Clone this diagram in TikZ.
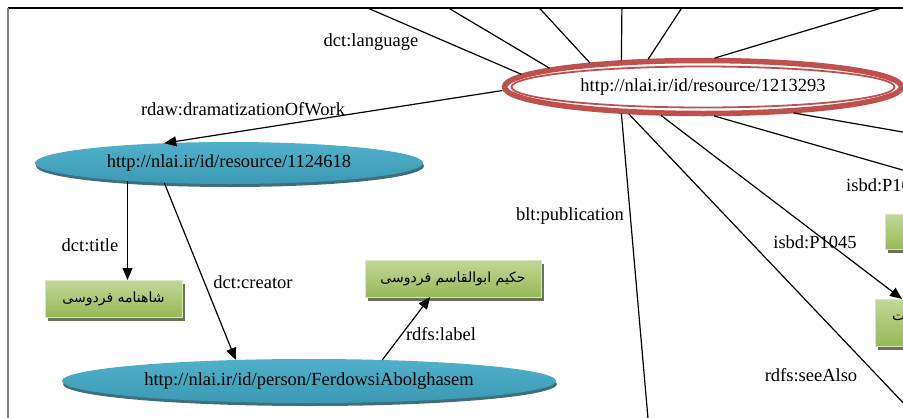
\documentclass[tikz,border=0pt]{standalone}
\usepackage{fontspec}
\setmainfont{Liberation Serif}
\newfontfamily\arabicfont[Script=Arabic]{DejaVu Sans}
\TeXXeTstate=1
\usetikzlibrary{shapes.geometric,shadows,calc,arrows.meta}
\definecolor{ringred}{HTML}{C0504D}
\definecolor{bluetop}{HTML}{52B1CA}
\definecolor{bluemid}{HTML}{8DCFDF}
\definecolor{bluebot}{HTML}{3A9AB3}
\definecolor{blueshadow}{HTML}{1F5564}
\definecolor{greentop}{HTML}{C2D799}
\definecolor{greenbot}{HTML}{98B855}
\definecolor{greenedge}{HTML}{D7E4BD}
\definecolor{greenshadow}{HTML}{4F5B3A}
\tikzset{
  blueell/.style={ellipse, minimum height=42pt, inner sep=0pt, outer sep=0pt,
    top color=bluetop, middle color=bluemid, bottom color=bluebot,
    drop shadow={shadow xshift=1pt, shadow yshift=-3pt, fill=blueshadow, opacity=0.85},
    font=\fontsize{18.5}{21}\selectfont},
  mainell/.style={ellipse, minimum width=404pt, minimum height=58pt, inner sep=0pt, outer sep=0pt,
    fill=white, font=\fontsize{18.5}{21}\selectfont},
  greenbox/.style={rectangle, inner sep=0pt, outer sep=0pt, draw=greenedge, line width=1pt,
    top color=greentop, bottom color=greenbot,
    drop shadow={shadow xshift=3pt, shadow yshift=-3.5pt, fill=greenshadow, opacity=0.85},
    font=\arabicfont\fontsize{14}{16}\selectfont},
  edgelabel/.style={inner sep=0pt, font=\fontsize{18.5}{21}\selectfont},
  conn/.style={draw=black, line width=1.2pt},
  arr/.style={conn, -{Triangle[length=12pt,width=10pt]}},
}
\begin{document}
\begin{tikzpicture}[x=1pt,y=-1pt]
\useasboundingbox (0,0) rectangle (903,418);
\begin{scope}
\clip (8,8) rectangle (903,418);
% nodes
\node[mainell] (main) at (703,87) {http://nlai.ir/id/resource/1213293};
\draw[ringred, line width=5.5pt] (main.center) ellipse [x radius=198.5pt, y radius=26.5pt];
\draw[ringred, line width=1.8pt] (main.center) ellipse [x radius=191.5pt, y radius=20.5pt];
\node[blueell, minimum width=388pt] (res1) at (229,163) {http://nlai.ir/id/resource/1124618};
\node[blueell, minimum width=494pt, minimum height=44pt] (person) at (309,381) {http://nlai.ir/id/person/FerdowsiAbolghasem};
\node[greenbox, minimum width=137pt, minimum height=37pt] (title) at (113.5,298.5) {\beginR شاهنامه فردوسی\endR};
\node[greenbox, minimum width=176pt, minimum height=37pt] (hakim) at (453,278.5) {\beginR حکیم ابوالقاسم فردوسی\endR};
\node[greenbox, minimum width=100pt, minimum height=35pt] (rbox1) at (935,232) {};
\node[greenbox, minimum width=100pt, minimum height=47pt] (rbox2) at (925,322.5) {};
\node[inner sep=0pt, anchor=west, font=\arabicfont\fontsize{14}{16}\selectfont] (rbox2txt) at (892,318) {\beginR ـت\endR};
% far ends
\coordinate (fa) at (435,0);
\coordinate (fb) at (349,0);
\coordinate (fc) at (532,0);
\coordinate (fd) at (622,0);
\coordinate (fe) at (687,0);
\coordinate (ff) at (908,0);
\coordinate (fh) at (649,430);
\coordinate (fi) at (929,430);
\coordinate (fk) at (920,175);
\coordinate (fl) at (920,135);
% connectors
\draw[conn] (main.173.4) -- (fa);
\draw[conn] (main.176.8) -- (fb);
\draw[conn] (main.168.5) -- (fc);
\draw[conn] (main.162.8) -- (fd);
\draw[conn] (main.153.4) -- (fe);
\draw[conn] (main.68.2) -- (ff);
\draw[conn] (main.198.6) -- (fh);
\draw[conn] (main.200.1) -- (fi);
\draw[conn] (main.291) -- (fk);
\draw[conn] (main.344.7) -- (fl);
\draw[arr] (main.181.8) -- (res1.163.1);
\draw[arr] (main.214.4) -- ($(rbox2.north west)+(27,0)$);
\draw[arr] (res1.190) -- (res1.190 |- title.north);
\draw[arr] (res1.197.8) -- (person.164.4);
\draw[arr] (person.16.5) -- ($(hakim.south west)!0.37!(hakim.south east)$);
% labels
\node[edgelabel] (l1) at (371,42) {dct:language};
\node[edgelabel] (l2) at (243,109) {rdaw:dramatizationOfWork};
\node[edgelabel] (l3) at (90,245) {dct:title};
\node[edgelabel] (l4) at (253,282) {dct:creator};
\node[edgelabel] (l5) at (441,334) {rdfs:label};
\node[edgelabel] (l6) at (570,216) {blt:publication};
\node[edgelabel] (l7) at (815,242) {isbd:P1045};
\node[edgelabel] (l8) at (811,375) {rdfs:seeAlso};
\node[edgelabel, anchor=west] (l9) at (846,185) {isbd:P10};
\end{scope}
% frame
\draw[black, line width=1.3pt] (8,8) -- (903,8);
\draw[gray, line width=2pt] (8,8) -- (8,418);
\end{tikzpicture}
\end{document}
